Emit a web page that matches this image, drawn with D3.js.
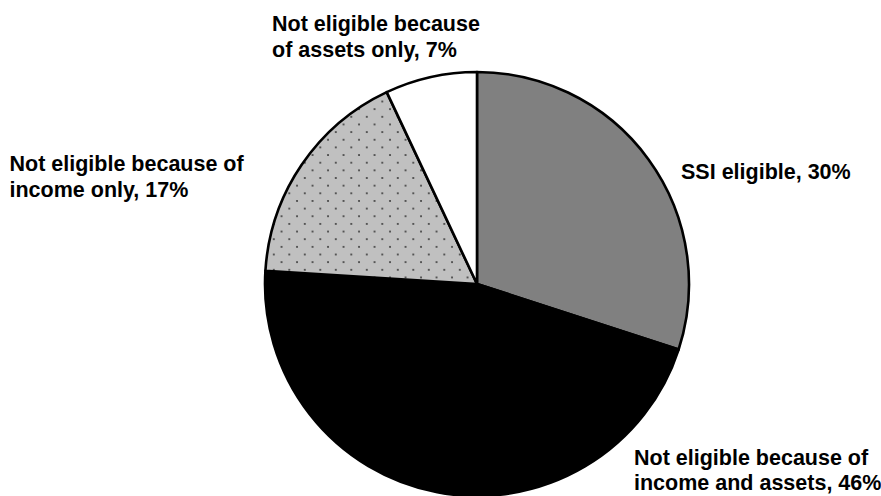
<!DOCTYPE html>
<html>
<head>
<meta charset="utf-8">
<script src="https://cdn.jsdelivr.net/npm/d3@7"></script>
<style>
  html, body { margin: 0; padding: 0; background: #fff; }
  svg { display: block; }
  .lbl { font-family: "Liberation Sans", Arial, Helvetica, sans-serif; font-weight: bold; font-size: 21.5px; fill: #000; }
</style>
</head>
<body>
<svg id="chart" width="881" height="496"></svg>
<script>
// Eligibility breakdown, clockwise from 12 o'clock
const categories = ["ssi", "incomeAssets", "incomeOnly", "assetsOnly"];
const values = [30, 46, 17, 7];
const labelLines = [
  ["SSI eligible"],
  ["Not eligible because of", "income and assets"],
  ["Not eligible because of", "income only"],
  ["Not eligible because", "of assets only"]
];

// Slice fills and label anchors (top-left x, first baseline y)
const fills = ["#808080", "#000000", "url(#dots)", "#ffffff"];
const labelPos = [[681, 178.5], [634, 464.5], [9.5, 171], [272, 31]];
const lineGap = 25.5;

const svg = d3.select("#chart");
const cx = 477, cy = 284, r = 212;

// Stippled fill: light gray with a staggered grid of dark dots
const defs = svg.append("defs");
const pat = defs.append("pattern")
  .attr("id", "dots")
  .attr("patternUnits", "userSpaceOnUse")
  .attr("x", 339.3 - 3.875).attr("y", 200 - 3.825)
  .attr("width", 15.5).attr("height", 15.3);
pat.append("rect").attr("width", 15.5).attr("height", 15.3).attr("fill", "#c0c0c0");
pat.append("circle").attr("cx", 3.875).attr("cy", 3.825).attr("r", 1.05).attr("fill", "#3a3a3a");
pat.append("circle").attr("cx", 11.625).attr("cy", 11.475).attr("r", 1.05).attr("fill", "#3a3a3a");

const pie = d3.pie().sort(null).value(d => d).startAngle(0).endAngle(2 * Math.PI);
const arc = d3.arc().innerRadius(0).outerRadius(r);

const g = svg.append("g").attr("transform", `translate(${cx},${cy})`);
g.selectAll("path.slice")
  .data(pie(values))
  .join("path")
  .attr("class", "slice")
  .attr("d", arc)
  .attr("fill", (d, i) => fills[i])
  .attr("stroke", "#000")
  .attr("stroke-width", 2.6)
  .attr("stroke-linejoin", "round");

// Labels: last line carries the share
const labels = svg.selectAll("text.lbl")
  .data(categories)
  .join("text")
  .attr("class", "lbl")
  .attr("x", (d, i) => labelPos[i][0])
  .attr("y", (d, i) => labelPos[i][1]);

labels.each(function (d, i) {
  const lines = labelLines[i].slice();
  lines[lines.length - 1] += ", " + values[i] + "%";
  d3.select(this).selectAll("tspan")
    .data(lines)
    .join("tspan")
    .attr("x", labelPos[i][0])
    .attr("dy", (t, j) => j === 0 ? 0 : lineGap)
    .text(t => t);
});
</script>
</body>
</html>
